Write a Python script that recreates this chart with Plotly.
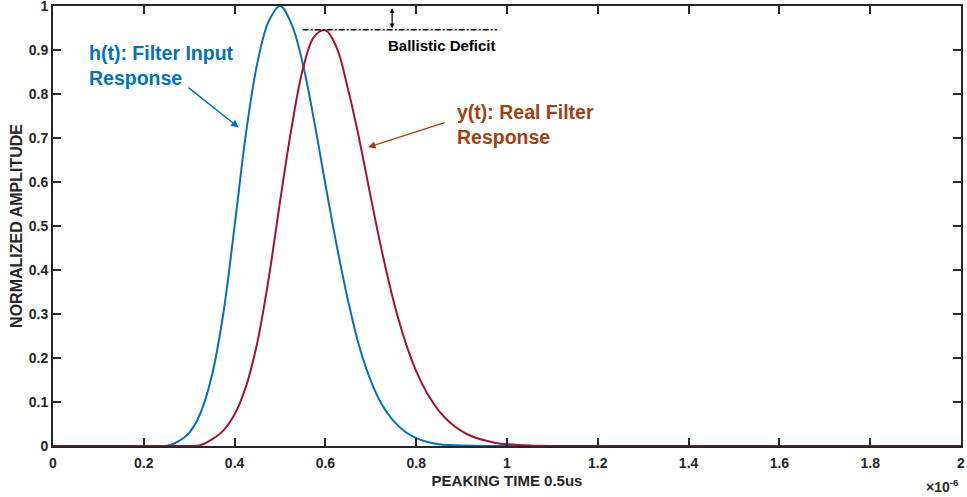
import plotly.graph_objects as go

# ---- data (time in units of 1e-6 s, normalized amplitude) ----
h_t = [0.0, 0.1, 0.2, 0.225, 0.25, 0.275, 0.30, 0.325, 0.35, 0.375, 0.40, 0.425, 0.45,
       0.475, 0.50, 0.525, 0.55, 0.575, 0.60, 0.625, 0.65, 0.675, 0.70, 0.725, 0.75,
       0.775, 0.80, 0.825, 0.85, 0.875, 0.90, 0.95, 1.0, 1.5, 2.0]
h_amp = [0.0, 0.0, 0.0, 0.0, 0.0, 0.01, 0.03, 0.075, 0.16, 0.30, 0.50, 0.71, 0.87,
         0.965, 1.0, 0.96, 0.87, 0.74, 0.595, 0.455, 0.33, 0.225, 0.148, 0.093, 0.057,
         0.033, 0.018, 0.009, 0.004, 0.002, 0.001, 0.0, 0.0, 0.0, 0.0]

y_t = [0.0, 0.1, 0.2, 0.275, 0.30, 0.325, 0.35, 0.375, 0.40, 0.425, 0.45, 0.475, 0.50,
       0.525, 0.55, 0.575, 0.60, 0.625, 0.65, 0.675, 0.70, 0.725, 0.75, 0.775,
       0.80, 0.825, 0.85, 0.875, 0.90, 0.925, 0.95, 0.975, 1.0, 1.05, 1.1, 1.15, 1.5, 2.0]
y_amp = [0.0, 0.0, 0.0, 0.0, 0.0, 0.002, 0.015, 0.035, 0.072, 0.135, 0.235, 0.38, 0.555,
         0.72, 0.855, 0.93, 0.945, 0.905, 0.81, 0.695, 0.565, 0.44, 0.33, 0.24,
         0.17, 0.118, 0.08, 0.053, 0.034, 0.021, 0.013, 0.007, 0.004, 0.001, 0.0, 0.0, 0.0, 0.0]

deficit_x = [0.55, 0.978]
deficit_level = 0.946
h_peak = 1.0

x_ticks = [0, 0.2, 0.4, 0.6, 0.8, 1, 1.2, 1.4, 1.6, 1.8, 2]
y_ticks = [0, 0.1, 0.2, 0.3, 0.4, 0.5, 0.6, 0.7, 0.8, 0.9, 1]

BLUE = "#0072BD"
RED = "#A2142F"
BROWN = "#A2400F"
AX = "#262626"
FONT = "Liberation Sans, Arial, sans-serif"

fig = go.Figure()
fig.add_trace(go.Scatter(x=h_t, y=h_amp, mode="lines",
                         line=dict(color=BLUE, width=2, shape="spline", smoothing=1.0),
                         name="h(t)", showlegend=False, hoverinfo="skip"))
fig.add_trace(go.Scatter(x=y_t, y=y_amp, mode="lines",
                         line=dict(color=RED, width=2, shape="spline", smoothing=1.0),
                         name="y(t)", showlegend=False, hoverinfo="skip"))
fig.add_trace(go.Scatter(x=deficit_x, y=[deficit_level] * len(deficit_x), mode="lines",
                         line=dict(color="black", width=1.5, dash="6px,2px,2px,2px"),
                         showlegend=False, hoverinfo="skip"))

axis_common = dict(
    showline=True, linecolor=AX, linewidth=2, mirror="ticks",
    ticks="inside", ticklen=8, tickwidth=2, tickcolor=AX,
    showgrid=False, zeroline=False, automargin=False,
    ticklabeloverflow="allow",
    tickfont=dict(family=FONT, size=14, color=AX, weight="bold"),
)

fig.update_layout(
    width=967, height=497,
    margin=dict(l=53, r=6, t=6, b=51),
    plot_bgcolor="white", paper_bgcolor="white",
    xaxis=dict(range=[0, 2], tickvals=x_ticks, ticklabelstandoff=3, **axis_common,
               title=dict(text="PEAKING TIME 0.5us", standoff=6,
                          font=dict(family=FONT, size=15, color=AX, weight="bold"))),
    yaxis=dict(range=[0, 1], tickvals=y_ticks, **axis_common,
               title=dict(text="NORMALIZED AMPLITUDE", standoff=2,
                          font=dict(family=FONT, size=16, color=AX, weight="bold"))),
    font=dict(family=FONT),
    hovermode=False,
)

annotations = [
    dict(x=0.0745, y=0.864, xref="x", yref="y", xanchor="left", yanchor="middle", align="left",
         text="h(t): Filter Input<br>Response", showarrow=False,
         font=dict(family=FONT, size=19.5, color=BLUE, weight="bold")),
    dict(x=0.409, y=0.724, ax=0.295, ay=0.817, xref="x", yref="y", axref="x", ayref="y",
         showarrow=True, arrowhead=2, arrowsize=1, arrowwidth=1.5, arrowcolor=BLUE, text=""),
    dict(x=0.886, y=0.730, xref="x", yref="y", xanchor="left", yanchor="middle", align="left",
         text="y(t): Real Filter<br>Response", showarrow=False,
         font=dict(family=FONT, size=19.5, color=BROWN, weight="bold")),
    dict(x=0.694, y=0.679, ax=0.866, ay=0.736, xref="x", yref="y", axref="x", ayref="y",
         showarrow=True, arrowhead=2, arrowsize=1, arrowwidth=1.5, arrowcolor=BROWN, text=""),
    dict(x=0.734, y=0.910, xref="x", yref="y", xanchor="left", yanchor="middle",
         text="Ballistic Deficit", showarrow=False,
         font=dict(family=FONT, size=15, color="black", weight="bold")),
    dict(x=0.747, y=h_peak - 0.005, ax=0.747, ay=deficit_level, xref="x", yref="y",
         axref="x", ayref="y", showarrow=True, arrowhead=2, arrowside="end+start",
         arrowsize=0.8, arrowwidth=1.2, arrowcolor="black", text=""),
    dict(x=1.0, y=-0.065, xref="paper", yref="paper", xanchor="right", yanchor="top",
         text="\u00d710<sup>-6</sup>", showarrow=False,
         font=dict(family=FONT, size=14, color=AX, weight="bold")),
]
fig.update_layout(annotations=annotations)

fig.write_html("out.html", config={"displayModeBar": False},
               post_script="document.body.style.margin='0px';")
